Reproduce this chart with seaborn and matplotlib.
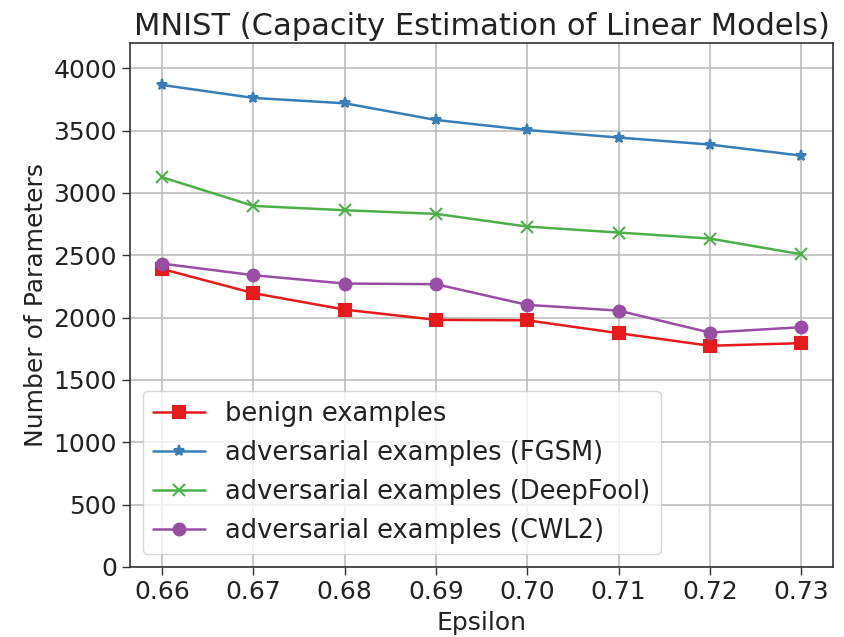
import pandas as pd
import matplotlib
matplotlib.use("Agg")
import matplotlib.pyplot as plt
import seaborn as sns

# values
epsilon = [0.66, 0.67, 0.68, 0.69, 0.70, 0.71, 0.72, 0.73]
benign = [2390, 2196, 2064, 1982, 1978, 1875, 1774, 1795]
fgsm = [3866, 3762, 3719, 3585, 3505, 3444, 3388, 3299]
deepfool = [3126, 2896, 2861, 2832, 2730, 2682, 2634, 2508]
cwl2 = [2433, 2340, 2273, 2268, 2102, 2056, 1880, 1923]

labels = ["benign examples", "adversarial examples (FGSM)",
          "adversarial examples (DeepFool)", "adversarial examples (CWL2)"]
colors = ["#e41a1c", "#377eb8", "#4daf4a", "#984ea3"]
markers = ["s", "*", "x", "o"]
sizes = [8, 8, 8, 8.5]

series = [benign, fgsm, deepfool, cwl2]
frames = []
for lab, vals in zip(labels, series):
    frames.append(pd.DataFrame({"Epsilon": epsilon, "params": vals, "kind": lab}))
df = pd.concat(frames, ignore_index=True)

sns.set_style("ticks")
plt.rcParams["font.family"] = ["DejaVu Sans"]
plt.rcParams["text.color"] = "#222222"
plt.rcParams["axes.labelcolor"] = "#222222"

fig, ax = plt.subplots(figsize=(8.45, 6.37), dpi=100)
for lab, col, mk, ms in zip(labels, colors, markers, sizes):
    sns.lineplot(data=df[df["kind"] == lab], x="Epsilon", y="params", color=col,
                 marker=mk, markersize=ms, markeredgecolor=col, markeredgewidth=1.5,
                 linewidth=1.8, label=lab, ax=ax)

ax.set_ylim(0, 4200)
ax.set_xticks(epsilon)
ax.set_xticklabels([f"{e:.2f}" for e in epsilon])
ax.set_yticks(range(0, 4001, 500))
ax.tick_params(labelsize=18, length=6, width=1, color="#333333", labelcolor="#222222")
ax.grid(True, color="#bdbdbd", linewidth=1.2)
for s in ax.spines.values():
    s.set_color("#333333")
    s.set_linewidth(1.2)
ax.set_xlabel("Epsilon", fontsize=18, labelpad=5)
ax.set_ylabel("Number of Parameters", fontsize=18)
ax.set_title("MNIST (Capacity Estimation of Linear Models)", fontsize=22, pad=6)
ax.legend(loc="lower left", fontsize=18.5, framealpha=0.8)

plt.subplots_adjust(left=0.154, right=0.986, top=0.932, bottom=0.11)
plt.savefig("out.png", dpi=100)
